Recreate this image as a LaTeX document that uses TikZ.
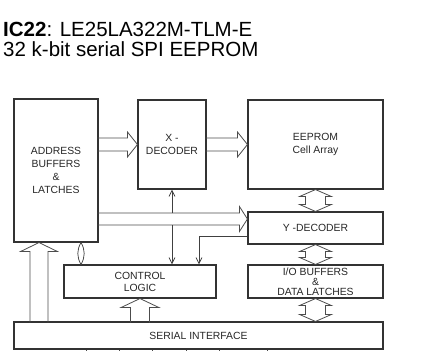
\documentclass[tikz,border=0pt]{standalone}
\usepackage{fontspec}
\setmainfont{Liberation Sans}
\usepackage{tikz}
\usetikzlibrary{calc}
\usetikzlibrary{arrows.meta}
\tikzset{blk/.style={draw=black!80, line width=1.1pt, text=black!85, font=\fontsize{10.4}{13}\selectfont, align=center, inner sep=0pt}}
\tikzset{bus/.style={draw=black!70, line width=0.8pt, line join=miter}}
\tikzset{sig/.style={draw=black!75, line width=0.8pt, -{Straight Barb[length=6pt,width=6pt]}}}
\tikzset{ttl/.style={anchor=base west, inner sep=0pt, font=\fontsize{20.5}{20}\selectfont}}
% hollow double arrow between two tips, top to bottom
\newcommand{\dblbus}[2]{\draw[bus] (#1) -- ++(16,7) -- ++(-6,0) -- ($(#2)+(10,-7)$) -- ++(6,0) -- (#2) -- ++(-16,-7) -- ++(6,0) -- ($(#1)+(-10,7)$) -- ++(-6,0) -- cycle;}

\begin{document}
\begin{tikzpicture}[x=1pt,y=-1pt]
\useasboundingbox (0,0) rectangle (440,351);
\node [ttl] (title1) at (3,36) {\textbf{IC22}: LE25LA322M-TLM-E};
\node [ttl] (title2) at (3,56) {32 k-bit serial SPI EEPROM};

\node [blk, minimum width=84pt, minimum height=143pt] (addr) at (56,170.5) {ADDRESS\\BUFFERS\\\&\\LATCHES};
\node [blk, minimum width=68pt, minimum height=89pt] (xdec) at (172,144.5) {X -\\DECODER};
\node [blk, minimum width=135pt, minimum height=89pt] (eeprom) at (315.5,144.5) {EEPROM\\Cell Array};
\node [blk, minimum width=135pt, minimum height=32pt] (ydec) at (315.5,228) {Y -DECODER};
\node [blk, minimum width=135pt, minimum height=33pt] (io) at (315.5,281.5) {I/O BUFFERS\\[-3pt]\&\\[-3pt]DATA LATCHES};
\node [blk, minimum width=152pt, minimum height=33pt] (ctrl) at (140,281.5) {CONTROL\\[-1pt]LOGIC};
\node [blk, minimum width=369pt, minimum height=27pt] (serial) at (198.5,335.5) {SERIAL INTERFACE};

% address bus
\draw[bus] ($(xdec.west)+(-40,-6.5)$) -- ++(30,0) -- ++(0,-6) -- (xdec.west) -- ++(-10,12.5) -- ++(0,-6) -- ++(-30,0);
\draw[bus] ($(eeprom.west)+(-42,-6.5)$) -- ++(32,0) -- ++(0,-6) -- (eeprom.west) -- ++(-10,12.5) -- ++(0,-6) -- ++(-32,0);
\coordinate (bus1) at ($(ydec.west)+(-150,-15)$);
\coordinate (bus2) at ($(ydec.west)+(-150,-3)$);
\draw[bus] (bus1) -- ++(142,0) -- ++(0,-6.5) -- ++(8,12.5) -- ++(-8,12.5) -- ++(0,-6.5) -- (bus2);

% control lines
\draw[sig] (xdec.south |- bus1) -- (xdec.south);
\draw[sig] (xdec.south |- bus2) -- (ctrl.north -| xdec.south);
\draw[sig, {Straight Barb[length=6pt,width=6pt]}-] ($(ctrl.north)+(59,0)$) |- ($(ydec.west)+(0,8)$);
\coordinate (lens) at ($(addr.south)+(25,0)$);
\draw[bus] (lens) to[bend right=30] (lens |- ctrl.north) to[bend right=30] (lens);

% serial interface outputs
\draw[bus] ($(addr.south)+(-26,80)$) -- ++(0,-71) -- ++(-9.5,0) -- ($(addr.south)+(-17,0)$) -- ++(18.5,9) -- ++(-9.5,0) -- ++(0,71);
\draw[bus] ($(ctrl.south)+(-9.5,24)$) -- ++(0,-15) -- ++(-9.5,0) -- (ctrl.south) -- ++(19,9) -- ++(-9.5,0) -- ++(0,15);

% data path
\dblbus{eeprom.south}{ydec.north}
\dblbus{ydec.south}{io.north}
\dblbus{io.south}{io.south |- serial.north}

\foreach \x in {73,106,139,173,206,254}
  \draw[bus] ($(serial.south west)+(\x,0)$) -- ++(0,4);
\end{tikzpicture}
\end{document}
